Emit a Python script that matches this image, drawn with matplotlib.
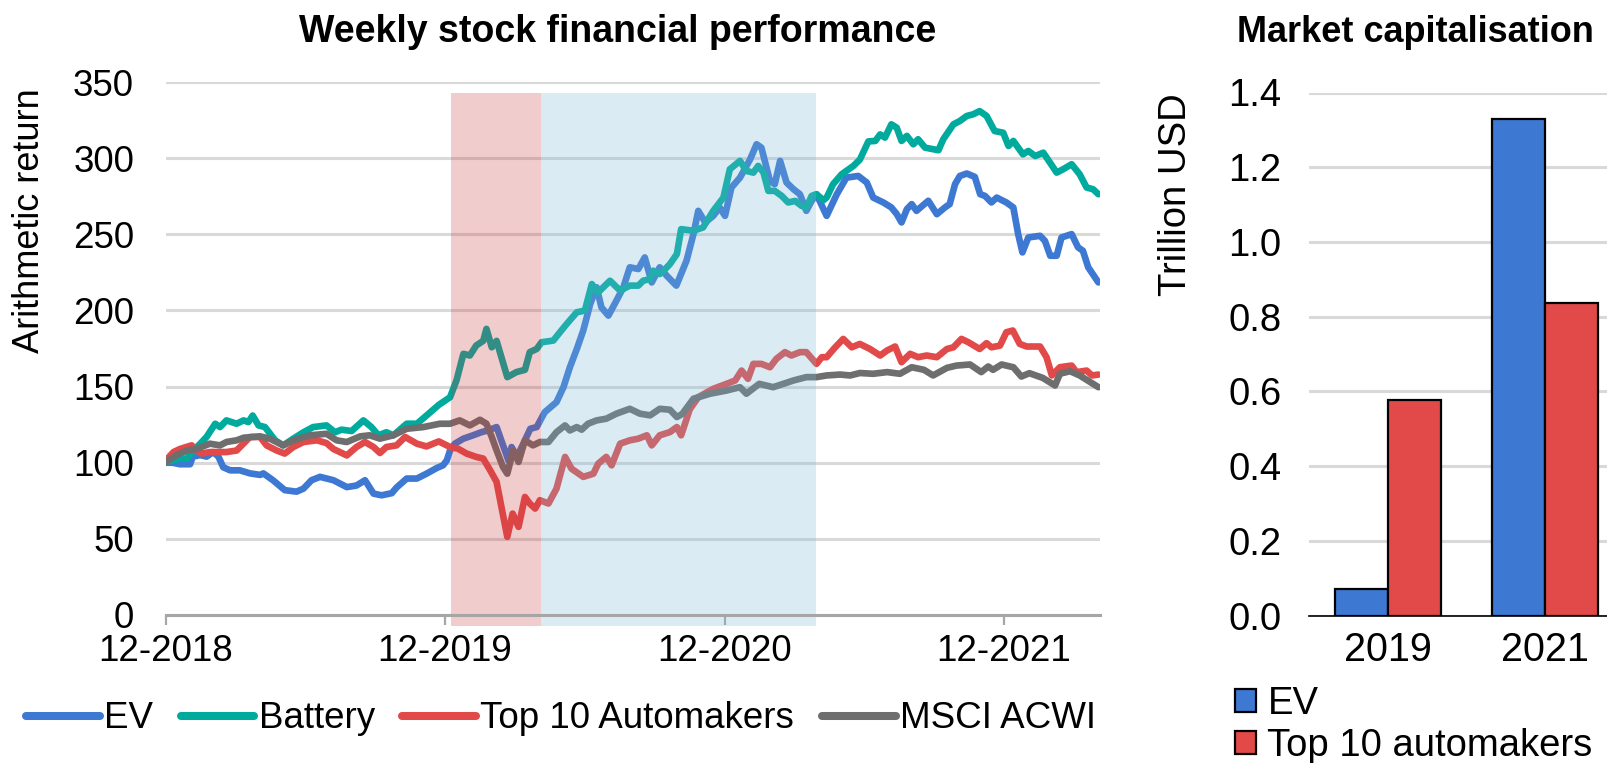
import matplotlib
matplotlib.use('Agg')
import matplotlib.pyplot as plt
from matplotlib.lines import Line2D
from matplotlib.patches import Patch
from matplotlib.ticker import FormatStrFormatter

plt.rcParams['font.family'] = ['Liberation Sans', 'DejaVu Sans']

# ---------------- data: weekly stock performance (x = weeks since 12-2018) -------------
ev_weeks = [0, 1.2, 2.6, 4.5, 5.0, 6.4, 7.6, 8.8, 9.8, 10.7, 12.0, 13.8, 15.7, 17.6, 18.2,
            20.0, 22.2, 24.4, 25.7, 27.2, 28.8, 31.3, 33.8, 35.6, 37.2, 38.8, 40.3, 42.2,
            43.1, 45.0, 46.9, 48.7, 50.6, 51.8, 52.5, 53.1, 54.0, 55.6, 57.4, 59.0, 60.2,
            61.8, 63.0, 64.0, 64.6, 65.6, 66.8, 68.1, 69.3, 70.8, 73.0, 74.3, 75.5, 76.8,
            78.0, 79.3, 80.5, 81.4, 82.7, 84.2, 85.5, 86.7, 88.3, 89.5, 90.8, 92.3, 93.6,
            95.4, 97.3, 98.6, 99.5, 100.8, 102.3, 103.5, 104.5, 105.7, 107.3, 109.2, 110.4,
            111.3, 112.9, 113.8, 114.8, 116.0, 117.3, 118.5, 119.7, 120.7, 121.6, 123.5,
            125.4, 127.2, 129.4, 131.0, 132.2, 134.1, 135.6, 136.6, 137.5, 138.5, 139.4,
            140.3, 142.5, 144.1, 145.6, 146.5, 147.5, 148.4, 149.7, 151.2, 152.2, 153.1,
            154.3, 155.3, 157.1, 158.4, 159.3, 160.1, 161.2, 163.4, 164.3, 165.3, 166.5,
            167.4, 169.3, 170.5, 171.4, 172.4, 174.3]
ev_values = [100, 100, 99, 99, 104, 105, 104, 107, 104, 97, 95, 95, 93, 92, 93,
             88.5, 82, 81, 83, 88.5, 90.7, 88.5, 84, 85, 88.5, 79.7, 78.6, 80,
             83.7, 89.6, 89.6, 92.8, 96.5, 98.3, 101.6, 108.1, 112.5, 115.8, 118, 120.1, 121.2,
             123.4, 111.4, 101.6, 110.3, 103.8, 112.5, 122.3, 123.4, 133.2, 139.8, 149.6, 162.7, 174.7,
             186.8, 204.2, 215.2, 202, 196.6, 206.4, 215.2, 228.3, 227.2, 234.8, 218.4, 228.3, 222.8,
             216.3, 232.6, 250.1, 265.4, 257.8, 262.1, 267.6, 262.1, 280.7, 287.2, 299.3, 309.1,
             306.9, 285, 282.9, 298.2, 284, 279.6, 276.3, 265.4, 272, 276.3, 262.1,
             276.3, 287.2, 288.3, 284, 274.1, 270.9, 267.6, 263.3, 257.8, 266.5, 269.8,
             265.4, 272, 263.2, 267.6, 269.8, 282.9, 288.3, 289.9, 287.7, 276.3, 275.2,
             270.9, 274.1, 270.9, 267.6, 250.1, 238.1, 247.9, 249, 245.7, 235.9, 235.9,
             247.9, 250.1, 241.4, 239.2, 228.3, 218.4]

battery_weeks = [0, 2.6, 3.9, 5.1, 6.4, 7.6, 9.2, 10.1, 11.3, 13.2, 14.5, 15.4, 16.2, 17.3,
                 18.5, 20.4, 21.9, 23.8, 25.7, 27.5, 30.0, 31.6, 32.8, 34.7, 36.9, 38.4, 39.7,
                 41.2, 42.5, 45.0, 46.9, 48.7, 51.0, 53.1, 54.3, 55.6, 56.8, 58.0, 59.3, 59.9,
                 60.9, 61.8, 62.7, 63.8, 65.5, 67.1, 68.0, 69.3, 70.2, 72.4, 73.9, 74.9, 76.8,
                 78.3, 79.6, 80.8, 83.0, 84.9, 86.7, 88.3, 89.2, 90.5, 91.1, 92.3, 93.0, 94.2,
                 95.5, 96.3, 98.6, 100.4, 102.3, 104.2, 105.4, 107.3, 108.5, 109.8, 110.7, 111.7,
                 112.6, 113.8, 115.1, 116.3, 117.6, 118.8, 119.7, 120.7, 121.6, 122.9, 123.5,
                 124.7, 126.3, 128.5, 129.7, 131.3, 132.6, 133.5, 134.4, 135.6, 136.6, 137.5,
                 138.5, 139.7, 140.6, 141.9, 144.4, 145.3, 147.2, 148.4, 149.7, 150.9, 152.1,
                 153.4, 154.9, 156.5, 157.5, 158.4, 160.2, 161.2, 162.5, 164.0, 166.5, 167.7,
                 169.3, 170.8, 172.1, 173.3, 174.3]
battery_values = [100.5, 102.7, 102.7, 108, 112.5, 117, 125.6, 123.4, 127.8, 125.6, 127.8, 126.7, 131, 124.5,
                  123.4, 114.7, 111.4, 115.8, 120, 123.4, 124.5, 120, 121.7, 120.8, 127.8, 123.4, 118,
                  120, 118, 125.6, 125.6, 131, 138, 143, 154, 171.5, 170.4, 177, 180, 187.9,
                  175.8, 180, 169.3, 156.2, 159.5, 161, 172.6, 174.7, 179.1, 180.2, 186.8, 191.1, 198.8,
                  199.9, 217.3, 211.9, 219.5, 213, 216.3, 216.3, 219.5, 220.6, 226.1, 223.9, 226, 230.4,
                  237, 253.4, 252.3, 254.5, 265.4, 274.1, 292.7, 298.2, 291.6, 290.5, 294.9, 290.5,
                  278.5, 278.5, 275.2, 270.9, 271.9, 268.7, 267.6, 275.2, 276.3, 272.4, 274.1,
                  282.9, 289.4, 294.9, 299, 311, 311.3, 315.6, 313.5, 322.2, 320, 311.3,
                  314.6, 309.1, 312.4, 306.9, 305.2, 312.4, 322.2, 324.4, 327.7, 328.8, 330.9,
                  327.7, 317.8, 316.7, 308, 311.3, 302.5, 304.7, 301.4, 303.6, 290.5, 292.7,
                  296, 289.4, 280.7, 279.6, 276.3]

auto_weeks = [0, 1.4, 2.6, 4.8, 5.7, 6.7, 8.2, 10.1, 11.3, 13.2, 15.7, 17.6, 18.8, 20.7, 22.2,
              23.8, 25.7, 28.2, 30.0, 31.3, 33.8, 35.6, 37.2, 38.8, 40.0, 41.2, 43.1, 44.7,
              46.9, 48.7, 51.0, 53.1, 54.6, 56.2, 58.0, 59.3, 60.6, 61.8, 62.7, 63.8, 64.8,
              65.9, 67.1, 68.0, 69.0, 69.9, 71.5, 73.0, 74.6, 75.8, 78.0, 79.9, 80.8, 82.3,
              83.3, 84.9, 86.7, 88.3, 89.9, 90.8, 92.3, 94.2, 95.5, 96.3, 97.9, 99.5, 101.0,
              102.3, 104.8, 106.4, 107.6, 108.8, 109.8, 111.3, 112.9, 114.1, 115.7, 116.9,
              118.5, 119.7, 121.6, 122.6, 123.5, 125.1, 126.6, 128.2, 129.7, 131.6, 133.5,
              134.8, 136.3, 137.5, 139.1, 140.6, 142.2, 144.1, 146.0, 147.2, 148.7, 150.0,
              152.1, 153.4, 154.3, 155.9, 157.1, 158.3, 159.6, 160.9, 163.4, 164.6, 165.6,
              167.1, 169.3, 170.2, 172.1, 173.1, 174.3]
auto_values = [101.6, 107, 109, 111.4, 108, 106, 107, 107, 107, 108, 116.9, 116.9, 111.4, 108, 106,
               110.3, 113.6, 114.7, 112.9, 109, 104.8, 110.3, 113.6, 110.3, 106.4, 110.3, 111.4, 116.9,
               112.5, 110.7, 114, 110.3, 109.2, 106, 103.8, 102.7, 95, 87.4, 71, 51.3, 66.6,
               57.9, 77.5, 73.2, 69.9, 75.4, 73.2, 83, 103.8, 96.1, 90.7, 92.8, 99.4, 103.8,
               98.3, 112.5, 114.7, 115.8, 118, 111.4, 118, 120.1, 123.4, 118, 135, 143, 146,
               148.5, 151.8, 154, 160.5, 155.1, 164.9, 164.9, 162.7, 168.2, 172.6, 170.4,
               172.6, 172.6, 164.9, 169.3, 169.3, 175.8, 181.3, 175.8, 178, 174.7, 170.4,
               173.7, 176.3, 166, 171.5, 169.3, 170.4, 169.3, 174.7, 175.8, 181.3, 179.1,
               174.7, 178.5, 175.8, 176.9, 185.7, 186.8, 178, 176.3, 176.3, 169.3, 157.3,
               162.7, 163.8, 159.5, 160.5, 157.3, 157.9]

msci_weeks = [0, 2.0, 3.9, 5.7, 8.2, 10.1, 11.3, 13.2, 14.5, 17.6, 19.4, 21.9, 23.8, 26.9,
              30.0, 31.9, 33.8, 36.3, 38.1, 40.0, 42.5, 45.0, 48.1, 51.2, 53.1, 54.9, 56.8,
              58.7, 59.9, 60.9, 61.8, 63.0, 63.8, 64.9, 65.9, 67.1, 68.6, 69.9, 71.5, 73.0,
              74.6, 75.5, 76.8, 77.7, 78.9, 80.5, 82.3, 84.2, 86.7, 88.6, 90.5, 92.3, 94.2,
              95.5, 96.5, 98.6, 101.7, 104.8, 107.3, 108.5, 110.9, 113.5, 115.4, 117.3, 119.7,
              121.6, 123.5, 126.0, 127.9, 129.7, 132.2, 134.8, 137.2, 139.4, 141.7, 143.4,
              146.0, 147.8, 150.3, 152.4, 153.7, 154.6, 156.2, 158.4, 159.9, 161.4, 163.9,
              166.2, 167.1, 169.0, 170.8, 172.8, 174.3]
msci_values = [100.5, 105, 108, 109, 112.5, 111.4, 113.6, 114.7, 116.4, 117.3, 115.8, 111.4, 114.7, 118,
               119, 114.7, 113.6, 117.3, 118, 115.8, 118, 122.3, 123.4, 125.6, 125.6, 127.8, 124.5,
               128.2, 125.6, 116.9, 108.1, 97.2, 92.8, 108.1, 100.5, 114.7, 111.4, 113.6, 113.6, 120.1,
               124.5, 121.2, 123.4, 121.7, 125.6, 127.8, 128.9, 132.2, 135.4, 132.2, 131.1, 135.4, 134.8,
               130, 132, 142, 145.3, 147.4, 149.6, 145.3, 151.8, 149.6, 151.8, 154, 156.2,
               156.2, 157.3, 157.9, 157.3, 158.9, 158.4, 159.5, 158.4, 162.7, 161, 157.3,
               162.3, 163.8, 164.5, 159.5, 163.2, 161, 164.5, 162.7, 156.6, 158.8, 155.7,
               150.7, 158.4, 160.1, 157.3, 152.9, 149.6]

series_names = ['EV', 'Battery', 'Top 10 Automakers', 'MSCI ACWI']
crash_period = (53.3, 70.1)      # weeks since 12-2018
recovery_period = (70.1, 121.6)
year_tick_weeks = [0, 365 / 7, 731 / 7, 1096 / 7]
year_tick_labels = ['12-2018', '12-2019', '12-2020', '12-2021']

# ---------------- data: market capitalisation ----------------
cap_years = ['2019', '2021']
cap_ev = [0.072, 1.33]
cap_top10 = [0.578, 0.836]

# ---------------- styles ----------------
C_EV = '#3d78d3'
C_BAT = '#00ab9e'
C_AUTO = '#e24a4a'
C_MSCI = '#6e6e6e'
FS = 26.5
FS2 = 27.5

W, H = 1608, 763
fig = plt.figure(figsize=(W / 100, H / 100), dpi=100)

# ---------------- left: line chart ----------------
ax = fig.add_axes([166 / W, 148 / H, 934 / W, 533 / H])
ax.set_xlim(0, 174.6)
ax.set_ylim(0, 350)
ax.set_yticks(range(0, 351, 50))
ax.yaxis.grid(True, color='#d9d9d9', linewidth=2.2, zorder=0)
ax.set_axisbelow(True)
for s in ['left', 'right', 'top']:
    ax.spines[s].set_visible(False)
ax.spines['bottom'].set_color('#a6a6a6')
ax.spines['bottom'].set_linewidth(2.2)
ax.spines['bottom'].set_zorder(6)
ax.tick_params(axis='y', length=0, pad=23, labelsize=FS)
ax.tick_params(axis='x', length=7.5, width=1.6, color='#a6a6a6', direction='out', pad=6, labelsize=FS)
ax.set_xticks(year_tick_weeks)
ax.set_xticklabels(year_tick_labels)

lw = 4.8
for (xs, ys, c, z) in [(ev_weeks, ev_values, C_EV, 2), (battery_weeks, battery_values, C_BAT, 3),
                       (auto_weeks, auto_values, C_AUTO, 4), (msci_weeks, msci_values, C_MSCI, 5)]:
    ax.plot(xs, ys, color=c, lw=lw, solid_joinstyle='round', solid_capstyle='round', zorder=z)

ax.axvspan(*crash_period, ymin=-7 / 350, ymax=343 / 350, color='#cc3a3a', alpha=0.26,
           lw=0, zorder=5.5, clip_on=False)
ax.axvspan(*recovery_period, ymin=-7 / 350, ymax=343 / 350, color='#7cb9d6', alpha=0.28,
           lw=0, zorder=5.5, clip_on=False)

handles = [Line2D([], [], color=c, lw=5.8, solid_capstyle='round') for c in [C_EV, C_BAT, C_AUTO, C_MSCI]]
fig.legend(handles, series_names, loc='center', bbox_to_anchor=(561 / W, 1 - 719 / H), ncol=4,
           frameon=False, fontsize=FS, handlelength=2.0, handletextpad=0.12, columnspacing=0.75,
           borderpad=0, borderaxespad=0)

fig.text(618 / W, 1 - 32 / H, 'Weekly stock financial performance', ha='center', va='center',
         fontsize=27, fontweight='bold')
fig.text(30 / W, 1 - 88 / H, 'Arithmetic return', rotation=90, ha='center', va='top', fontsize=26)

# ---------------- right: bar chart ----------------
ax2 = fig.add_axes([1309 / W, 147.5 / H, 315 / W, 523 / H])
xpos = list(range(len(cap_years)))
bw = 0.3376
ax2.bar([x - bw / 2 for x in xpos], cap_ev, width=bw, color=C_EV, edgecolor='black', lw=1.6, zorder=3)
ax2.bar([x + bw / 2 for x in xpos], cap_top10, width=bw, color=C_AUTO, edgecolor='black', lw=1.6, zorder=3)
ax2.set_xlim(-0.5, 1.506)
ax2.set_ylim(0, 1.4)
ax2.set_yticks([i * 0.2 for i in range(8)])
ax2.yaxis.set_major_formatter(FormatStrFormatter('%.1f'))
ax2.yaxis.grid(True, color='#d9d9d9', linewidth=2.2, zorder=0)
ax2.set_axisbelow(True)
for s in ['left', 'right', 'top']:
    ax2.spines[s].set_visible(False)
ax2.spines['bottom'].set_color('black')
ax2.spines['bottom'].set_linewidth(1.2)
ax2.spines['bottom'].set_zorder(4)
ax2.tick_params(axis='y', length=0, pad=20, labelsize=FS2)
ax2.tick_params(axis='x', length=0, pad=11, labelsize=FS2 + 1)
ax2.set_xticks(xpos)
ax2.set_xticklabels(cap_years)

fig.text(1415 / W, 1 - 33 / H, 'Market capitalisation', ha='center', va='center',
         fontsize=26, fontweight='bold')
fig.text(1176 / W, 1 - 93 / H, 'Trillion USD', rotation=90, ha='center', va='top', fontsize=27.5)

bar_handles = [Patch(facecolor=C_EV, edgecolor='black', lw=1.6),
               Patch(facecolor=C_AUTO, edgecolor='black', lw=1.6)]
fig.legend(bar_handles, ['EV', 'Top 10 automakers'], loc='upper left',
           bbox_to_anchor=(1235 / W, 1 - 686 / H), ncol=1, frameon=False, fontsize=FS2,
           handlelength=0.55, handleheight=0.55, handletextpad=0.3, labelspacing=0.17,
           borderpad=0, borderaxespad=0)

fig.savefig('out.png', dpi=100)
